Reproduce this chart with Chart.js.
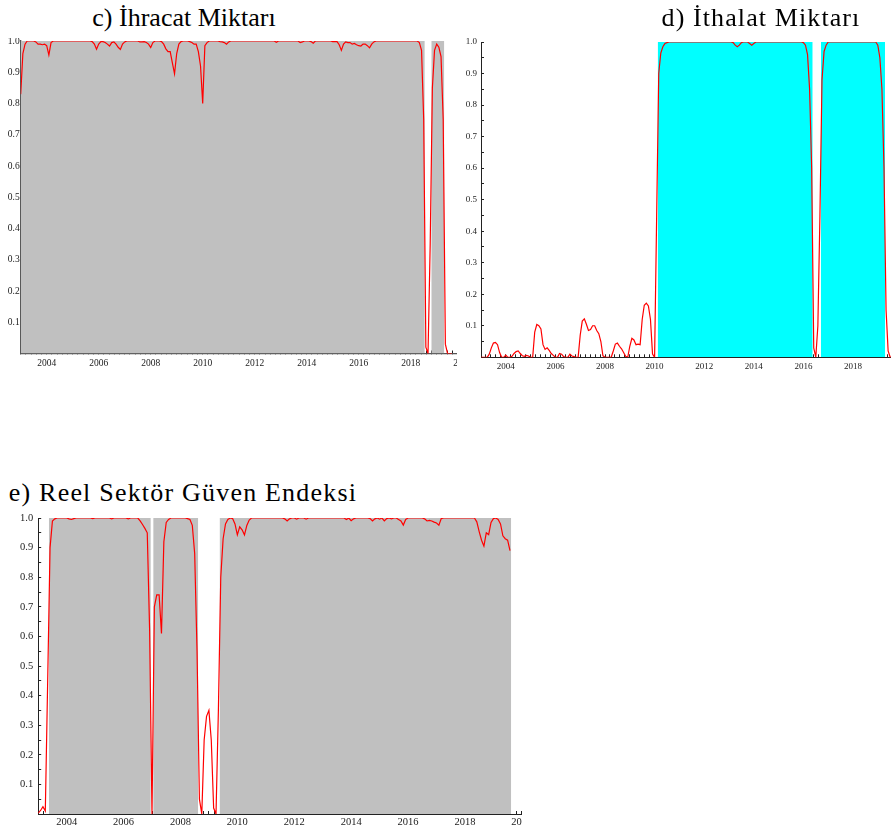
<!DOCTYPE html>
<html><head><meta charset="utf-8">
<script src="https://cdn.jsdelivr.net/npm/chart.js@4/dist/chart.umd.min.js"></script>
<style>
html,body{margin:0;padding:0;background:#fff;width:891px;height:834px;overflow:hidden;position:relative;font-family:'Liberation Serif',serif;}
.title{position:absolute;font-size:26px;color:#000;white-space:nowrap;transform:translateX(-50%);line-height:30px;}
.clip{position:absolute;overflow:hidden;background:#fff;}
.clip canvas{position:absolute;left:0;top:0;}
</style></head><body>
<div class="clip" id="boxC" style="left:0;top:38px;width:457px;height:342px;"><canvas id="cC" width="475" height="342"></canvas></div>
<div class="clip" id="boxD" style="left:457px;top:30px;width:434px;height:355px;"><canvas id="cD" width="461" height="355"></canvas></div>
<div class="clip" id="boxE" style="left:0;top:513px;width:522px;height:321px;"><canvas id="cE" width="540" height="321"></canvas></div>
<div class="title" style="left:184px;top:3px;">c) İhracat Miktarı</div>
<div class="title" style="left:761px;top:3px;letter-spacing:1.1px;">d) İthalat Miktarı</div>
<div class="title" style="left:183px;top:478px;letter-spacing:1.2px;">e) Reel Sektör Güven Endeksi</div>
<script>
// Monthly smoothed regime probabilities, 2003M1 .. 2019M8
const startYear = 2003;
const xMin = 2003, xMax = 2020;

const ihracat = [
  0.83, 0.96, 0.99, 1, 1, 1, 1, 0.997, 0.99, 0.99, 0.988, 0.99,
  0.985, 0.955, 0.995, 1, 1, 1, 1, 1, 1, 1, 1, 1,
  1, 1, 1, 1, 1, 1, 1, 1, 1, 0.998, 0.99, 0.974,
  0.99, 0.998, 0.998, 0.995, 0.99, 0.984, 0.995, 0.997, 0.99, 0.98, 0.973, 0.99,
  0.997, 1, 1, 1, 1, 1, 1, 0.997, 0.997, 0.998, 0.995, 0.99,
  0.979, 0.995, 1, 1, 1, 0.998, 0.99, 0.975, 0.966, 0.966, 0.93, 0.895,
  0.96, 0.99, 0.998, 1, 1, 1, 0.998, 0.995, 0.99, 0.99, 0.966, 0.92,
  0.80, 0.985, 0.995, 1, 1, 1, 1, 1, 0.998, 0.997, 0.995, 0.99,
  0.997, 1, 1, 1, 1, 1, 1, 1, 1, 1, 1, 1,
  1, 1, 1, 1, 1, 1, 1, 1, 1, 1, 0.996, 1,
  1, 1, 1, 1, 1, 1, 1, 1, 1, 0.995, 0.997, 1,
  1, 1, 0.998, 0.993, 1, 1, 1, 1, 1, 1, 1, 1,
  0.998, 0.998, 0.998, 0.988, 0.97, 0.99, 0.997, 0.995, 0.995, 0.99, 0.992, 0.988,
  0.985, 0.984, 0.99, 0.99, 0.985, 0.978, 0.99, 0.997, 1, 1, 1, 1,
  1, 1, 1, 1, 1, 1, 1, 1, 1, 1, 1, 1,
  1, 1, 1, 1, 0.995, 0.97, 0.75, 0.02, 0.0, 0.35, 0.85, 0.97,
  0.99, 0.98, 0.95, 0.75, 0.03, 0, 0, 0
];

const ithalat = [
  0, 0, 0, 0, 0.01, 0.03, 0.045, 0.047, 0.04, 0.015, 0, 0,
  0.007, 0, 0, 0.003, 0.012, 0.018, 0.02, 0.012, 0.005, 0.003, 0.006, 0.004,
  0, 0, 0.08, 0.104, 0.1, 0.09, 0.04, 0.025, 0.03, 0.022, 0.012, 0.006,
  0, 0, 0.012, 0.01, 0.002, 0, 0, 0.01, 0.004, 0.002, 0, 0,
  0.07, 0.115, 0.122, 0.105, 0.085, 0.088, 0.1, 0.1, 0.085, 0.075, 0.05, 0.005,
  0, 0, 0, 0, 0.02, 0.042, 0.045, 0.035, 0.027, 0.015, 0.003, 0,
  0.035, 0.06, 0.055, 0.04, 0.042, 0.04, 0.12, 0.165, 0.172, 0.163, 0.12, 0.01,
  0, 0.45, 0.9, 0.965, 0.985, 0.995, 0.998, 1, 1, 1, 1, 1,
  1, 1, 1, 1, 1, 1, 1, 1, 1, 1, 1, 1,
  1, 1, 1, 1, 1, 1, 1, 1, 1, 1, 1, 1,
  1, 1, 0.998, 0.99, 0.985, 0.99, 0.998, 1, 1, 1, 0.995, 0.99,
  0.995, 1, 1, 1, 1, 1, 1, 1, 1, 1, 1, 1,
  1, 1, 1, 1, 1, 1, 1, 1, 1, 1, 1, 1,
  0.998, 0.99, 0.96, 0.85, 0.6, 0.03, 0, 0.1, 0.45, 0.88, 0.97, 0.99,
  1, 1, 1, 1, 1, 1, 1, 1, 1, 1, 1, 1,
  1, 1, 1, 1, 1, 1, 1, 1, 1, 1, 1, 1,
  0.99, 0.95, 0.85, 0.6, 0.15, 0.02, 0, 0
];

const guven = [
  0.003, 0.012, 0.025, 0.01, 0.45, 0.9, 0.99, 0.997, 1, 1, 1, 1,
  1, 0.997, 0.995, 0.998, 1, 1, 1, 1, 1, 1, 1, 0.998,
  1, 1, 1, 1, 1, 1, 1, 0.997, 1, 1, 1, 1,
  1, 1, 0.997, 1, 1, 1, 1, 0.99, 0.978, 0.965, 0.95, 0.62,
  0.0, 0.7, 0.74, 0.74, 0.61, 0.92, 0.985, 0.995, 1, 1, 1, 1,
  1, 1, 1, 0.998, 0.995, 0.975, 0.88, 0.55, 0.05, 0.0, 0.25, 0.33,
  0.35, 0.25, 0.02, 0.0, 0.35, 0.8, 0.93, 0.98, 0.995, 1, 0.998, 0.98,
  0.943, 0.97, 0.96, 0.943, 0.975, 0.993, 1, 1, 1, 1, 1, 1,
  1, 1, 1, 1, 1, 1, 1, 1, 0.997, 0.99, 0.997, 1,
  1, 0.996, 1, 1, 1, 0.996, 1, 1, 1, 1, 1, 1,
  1, 1, 1, 1, 1, 1, 1, 1, 1, 1, 0.995, 1,
  0.991, 0.997, 1, 1, 1, 1, 1, 1, 0.998, 0.99, 0.997, 1,
  0.996, 1, 0.99, 0.998, 1, 0.997, 1, 1, 0.995, 0.99, 0.976, 0.995,
  1, 1, 1, 1, 1, 1, 1, 0.997, 0.99, 0.992, 0.99, 0.986,
  0.983, 0.976, 0.998, 1, 1, 1, 1, 1, 1, 1, 1, 1,
  1, 1, 1, 1, 1, 0.987, 0.954, 0.925, 0.905, 0.95, 0.944, 0.985,
  0.998, 1, 0.995, 0.98, 0.94, 0.93, 0.925, 0.89
];

// Regime bands [start, end] in decimal years
const bandsIhracat = [[2003.0, 2018.542], [2018.792, 2019.292]];
const bandsIthalat = [[2010.125, 2016.375], [2016.708, 2019.292]];
const bandsGuven = [[2003.375, 2006.958], [2007.042, 2008.625], [2009.375, 2019.625]];

function toPoints(vals) { return vals.map((v, i) => ({x: startYear + i / 12, y: v})); }

function makeChart(id, vals, bands, bandColor, g) {
  const datasets = [{
    data: toPoints(vals), borderColor: '#ff0000', borderWidth: 1.2,
    pointRadius: 0, tension: 0, fill: false, order: 0
  }];
  bands.forEach(b => datasets.push({
    data: [{x: b[0], y: 1}, {x: b[1], y: 1}], borderColor: 'rgba(0,0,0,0)', borderWidth: 0,
    pointRadius: 0, fill: 'origin', backgroundColor: bandColor, order: 1
  }));
  const font = {family: 'Liberation Serif', size: g.font};
  new Chart(document.getElementById(id), {
    type: 'line',
    data: {datasets},
    options: {
      responsive: false, animation: false, events: [],
      layout: {padding: {top: g.top, right: g.right, left: 0, bottom: 0}},
      plugins: {legend: {display: false}, tooltip: {enabled: false}, title: {display: false}},
      scales: {
        x: {
          type: 'linear', min: xMin, max: xMax, z: 1,
          border: {display: true, color: g.axis, width: g.axisW},
          grid: {display: true, drawOnChartArea: false, drawTicks: true, tickLength: -3, tickColor: '#222', tickWidth: 1},
          ticks: {
            stepSize: 0.2, autoSkip: false, maxRotation: 0, minRotation: 0, padding: g.xpad,
            color: '#222', font,
            callback: v => { const r = Math.round(v); return (Math.abs(v - r) < 1e-6 && r % 2 === 0) ? String(r) : ''; }
          },
          afterFit: s => { s.height = g.xh; s.paddingLeft = 0; s.paddingRight = 0; s.paddingTop = 0; s.paddingBottom = 0; }
        },
        y: {
          type: 'linear', min: 0, max: 1, z: 1,
          border: {display: true, color: g.axis, width: g.axisW},
          grid: {display: true, drawOnChartArea: false, drawTicks: true, tickLength: -3, tickColor: '#222', tickWidth: 1},
          ticks: {
            stepSize: 0.05, autoSkip: false, padding: g.ypad, color: '#222', font,
            callback: v => { const k = Math.round(v * 20); return (k % 2 !== 0 || k === 0) ? '' : (k / 20).toFixed(1); }
          },
          afterFit: s => { s.width = g.yw; s.paddingLeft = 0; s.paddingRight = 0; s.paddingTop = 0; s.paddingBottom = 0; }
        }
      }
    }
  });
}

makeChart('cC', ihracat, bandsIhracat, '#c0c0c0',
  {font: 9.5, top: 3, right: 12.3, xh: 26.5, yw: 20.7, xpad: 7, ypad: 4, axis: '#555', axisW: 1.3});
makeChart('cD', ithalat, bandsIthalat, '#00ffff',
  {font: 9, top: 12, right: 15.4, xh: 27.7, yw: 24, xpad: 7, ypad: 7, axis: '#222', axisW: 1});
makeChart('cE', guven, bandsGuven, '#c0c0c0',
  {font: 10.5, top: 5, right: 18.15, xh: 20, yw: 38.2, xpad: 5, ypad: 8, axis: '#222', axisW: 1});
</script>
</body></html>
